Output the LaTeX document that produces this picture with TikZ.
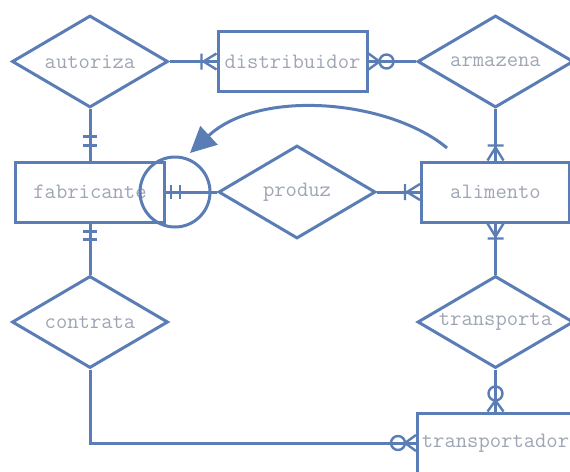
\documentclass[tikz,border=0pt]{standalone}
\usetikzlibrary{shapes.geometric,arrows.meta}
\definecolor{ln}{HTML}{5B7DB5}
\definecolor{tx}{HTML}{9EA5B3}
\tikzset{
  er/.style={draw=ln, line width=3pt},
  lbl/.style={font=\ttfamily\fontsize{22}{24}\selectfont, text=tx},
  ent/.style={er, rectangle, inner sep=0pt, lbl},
  rel/.style={er, diamond, aspect=1.7, inner sep=0pt, minimum width=156pt, minimum height=92pt, lbl},
  lnk/.style={draw=ln, line width=3pt},
  mk/.style={draw=ln, line width=2.4pt},
  barcrow/.pic={\draw[mk] (-13,0) -- (0,-8) (-13,0) -- (0,8) (-15,-8) -- (-15,8);},
  circcrow/.pic={\draw[mk] (-11,0) -- (0,-8) (-11,0) -- (0,8); \draw[mk] (-18,0) circle[radius=7pt];},
  twobars/.pic={\draw[mk] (-5,-7) -- (-5,7) (-14,-7) -- (-14,7);},
}
\begin{document}
\begin{tikzpicture}[x=1pt,y=-1pt]
\useasboundingbox (0,0) rectangle (570,471);
\clip (0,0) rectangle (570,471);
% entities
\node[ent, minimum width=149pt, minimum height=60pt] (dist) at (292.5,61.5) {distribuidor};
\node[ent, minimum width=149pt, minimum height=60pt] (fab) at (90,192) {fabricante};
\node[ent, minimum width=148pt, minimum height=60pt] (ali) at (495.5,192) {alimento};
\node[ent, minimum width=156pt, minimum height=60pt] (trp) at (495.5,443) {transportador};
% relationships
\node[rel] (aut) at (90,61.5) {autoriza};
\node[rel] (arm) at (495.5,61.5) {armazena};
\node[rel, minimum width=157pt, minimum height=93pt] (prod) at (297,192) {produz};
\node[rel] (tra) at (495.5,322) {transporta};
\node[rel] (con) at (90,322) {contrata};
% circle on fabricante
\node[er, circle, minimum size=70pt, inner sep=0pt] (ring) at (175,192) {};
% connectors
\draw[lnk] (aut.east) -- (dist.west);
\draw[lnk] (dist.east) -- (arm.west);
\draw[lnk] (arm.south) -- (ali.north);
\draw[lnk] (prod.east) -- (ali.west);
\draw[lnk] (prod.west) -- (fab.east);
\draw[lnk] (aut.south) -- (fab.north);
\draw[lnk] (fab.south) -- (con.north);
\draw[lnk] (ali.south) -- (tra.north);
\draw[lnk] (tra.south) -- (trp.north);
\draw[lnk] (con.south) |- (trp.west);
% cardinality marks
\pic at (dist.west) {barcrow};
\pic[rotate=180] at (dist.east) {circcrow};
\pic[rotate=-90] at (ali.north) {barcrow};
\pic at (ali.west) {barcrow};
\pic[rotate=90] at (ali.south) {barcrow};
\pic[rotate=-90] at (trp.north) {circcrow};
\pic at (trp.west) {circcrow};
\pic[rotate=180] at (fab.east) {twobars};
\begin{scope}[shift={(fab.north)}]
\draw[mk] (-7,-15) -- (7,-15) (-7,-24) -- (7,-24);
\end{scope}
\begin{scope}[shift={(fab.south)}]
\draw[mk] (-7,8) -- (7,8) (-7,16) -- (7,16);
\end{scope}
% curved arrow
\coordinate (as) at (447,148);
\coordinate (ae) at (190,153);
\draw[draw=ln, line width=3pt, -{Triangle[length=26pt,width=25pt,fill=ln]}] (as) .. controls (390,100) and (260,88) .. (ae);
\end{tikzpicture}
\end{document}
